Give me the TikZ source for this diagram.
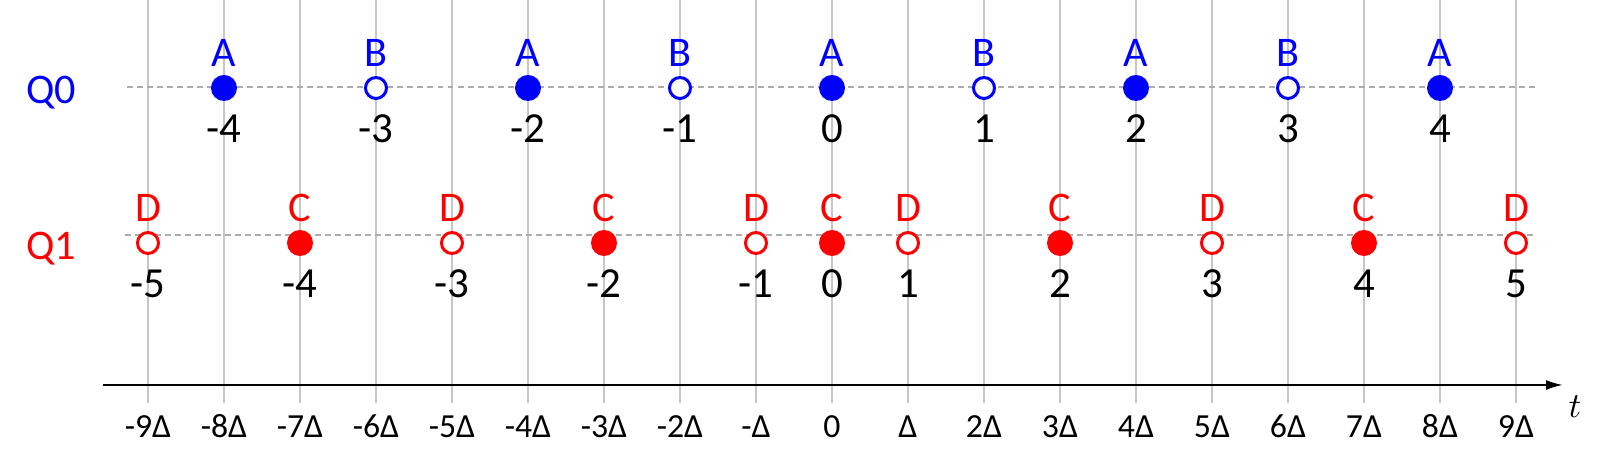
\documentclass[tikz,border=0pt]{standalone}
\usepackage{fontspec}
\setmainfont{Carlito}
\usetikzlibrary{arrows.meta}
\definecolor{qblu}{RGB}{0,0,255}
\definecolor{qrosso}{RGB}{255,0,0}
\tikzset{
  griglia/.style = {gray!45, line width=0.6pt},
  traccia/.style = {gray!65, line width=0.45pt, dash pattern=on 1.7pt off 1.15pt},
  asse/.style    = {line width=0.6pt, -{Latex[length=1.7mm, width=1mm]}},
  pieno/.style   = {circle, fill, minimum size=2.6mm, inner sep=0},
  vuoto/.style   = {circle, draw, line width=0.85pt, fill=white, minimum size=2.1mm, inner sep=0},
  lettera/.style = {anchor=base, font=\fontsize{12}{14}\selectfont},
  indice/.style  = {anchor=base, font=\fontsize{12.2}{14}\selectfont},
  tacca/.style   = {anchor=base, font=\fontsize{9.6}{11}\selectfont}
}

\begin{document}
\begin{tikzpicture}
  \useasboundingbox (-8.32,-0.84) rectangle (7.70,3.85);
  % griglia verticale, passo Delta = 0.76
  \foreach \k/\lab in {-9/-9Δ,-8/-8Δ,-7/-7Δ,-6/-6Δ,-5/-5Δ,-4/-4Δ,-3/-3Δ,-2/-2Δ,-1/-Δ,0/0,1/Δ,2/2Δ,3/3Δ,4/4Δ,5/5Δ,6/6Δ,7/7Δ,8/8Δ,9/9Δ} {
    \coordinate (g\k) at (0.76*\k,3.85);
    \coordinate (h\k) at (0.76*\k,-0.18);
    \draw[griglia] (g\k) -- (h\k);
    \node[tacca] (l\k) at (0.76*\k,-0.53) {\lab};
  }
  % tracce delle due code
  \coordinate (q0a) at (-7.05,2.98); \coordinate (q0b) at (7.05,2.98);
  \coordinate (q1a) at (-7.07,1.50); \coordinate (q1b) at (7.04,1.50);
  \draw[traccia] (q0a) -- (q0b);
  \draw[traccia] (q1a) -- (q1b);
  % asse dei tempi
  \coordinate (ta) at (-7.29,0); \coordinate (tb) at (7.31,0);
  \draw[asse] (ta) -- (tb);
  \node[anchor=base, font=\fontsize{10}{12}\selectfont] (t) at (7.43,-0.33) {$t$};
  % etichette delle code
  \node[lettera, text=qblu] (Q0) at (-7.81,2.81) {Q0};
  \node[lettera, text=qrosso] (Q1) at (-7.81,1.25) {Q1};
  % coda Q0: A pieni, B vuoti
  \foreach \x/\st/\lett/\n in {-8/pieno/A/-4,-6/vuoto/B/-3,-4/pieno/A/-2,-2/vuoto/B/-1,0/pieno/A/0,2/vuoto/B/1,4/pieno/A/2,6/vuoto/B/3,8/pieno/A/4} {
    \node[qblu, \st] (a\n) at (0.76*\x,2.97) {};
    \node[lettera, text=qblu] at (0.76*\x,3.18) {\lett};
    \node[indice] at (0.76*\x,2.42) {\n};
  }
  % coda Q1: C pieni, D vuoti
  \foreach \x/\st/\lett/\n in {-9/vuoto/D/-5,-7/pieno/C/-4,-5/vuoto/D/-3,-3/pieno/C/-2,-1/vuoto/D/-1,0/pieno/C/0,1/vuoto/D/1,3/pieno/C/2,5/vuoto/D/3,7/pieno/C/4,9/vuoto/D/5} {
    \node[qrosso, \st] (c\n) at (0.76*\x,1.42) {};
    \node[lettera, text=qrosso] at (0.76*\x,1.63) {\lett};
    \node[indice] at (0.76*\x,0.87) {\n};
  }
\end{tikzpicture}
\end{document}
